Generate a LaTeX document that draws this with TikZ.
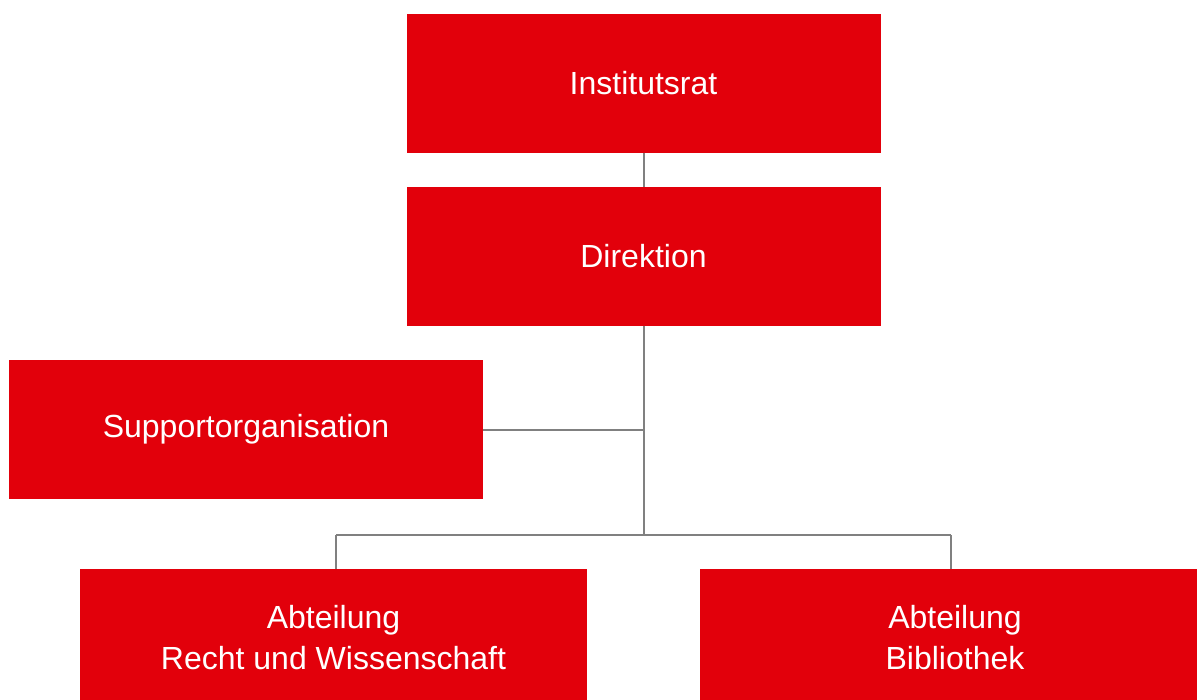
\documentclass[tikz,border=0pt]{standalone}
\usepackage{fontspec}
\setmainfont{Liberation Sans}
\definecolor{boxred}{HTML}{E2000B}
\definecolor{linegray}{HTML}{808080}
\begin{document}
\begin{tikzpicture}[x=1pt,y=-1pt,
  orgbox/.style={fill=boxred, draw=none, text=white, inner sep=0pt, outer sep=0pt,
    font=\fontsize{32}{41}\selectfont, align=center},
  conn/.style={draw=linegray, line width=1.2pt}]
\useasboundingbox (0,0) rectangle (1197,699);
\clip (0,0) rectangle (1197,699);
\node[orgbox, minimum width=474pt, minimum height=139pt] (rat) at (643.5,83) {Institutsrat};
\node[orgbox, minimum width=474pt, minimum height=139pt] (dir) at (643.5,256) {Direktion};
\node[orgbox, minimum width=474pt, minimum height=139pt] (sup) at (246,429) {Supportorganisation};
\node[orgbox, minimum width=507pt, minimum height=138pt] (arw) at (333.5,638) {Abteilung\\Recht und Wissenschaft};
\node[orgbox, minimum width=510pt, minimum height=138pt] (abi) at (955,638) {Abteilung\\Bibliothek};
\coordinate (j1) at (644,430);
\coordinate (j2) at (644,535);
\coordinate (l2) at (336,535);
\coordinate (r2) at (951,535);
\draw[conn] (rat.south -| j1) -- (dir.north -| j1);
\draw[conn] (dir.south -| j1) -- (j2);
\draw[conn] (sup.east |- j1) -- (j1);
\draw[conn] (l2) -- (r2);
\draw[conn] (l2) -- (arw.north -| l2);
\draw[conn] (r2) -- (abi.north -| r2);
\end{tikzpicture}
\end{document}
